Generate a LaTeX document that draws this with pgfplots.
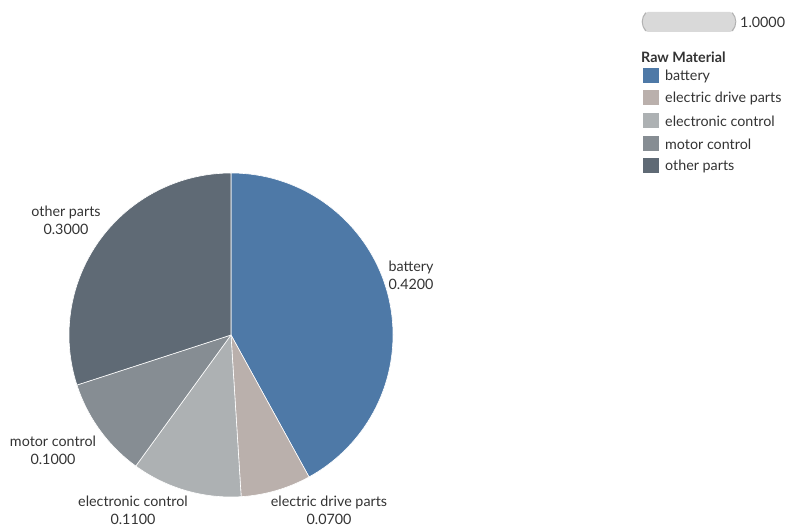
\documentclass[border=0pt]{standalone}
\usepackage{pgfplots}
\pgfplotsset{compat=1.18}
\usepackage{fontspec}
\setmainfont{Lato}
\definecolor{cBattery}{HTML}{4E79A7}
\definecolor{cDrive}{HTML}{BAB0AC}
\definecolor{cElec}{HTML}{ADB1B3}
\definecolor{cMotor}{HTML}{868D93}
\definecolor{cOther}{HTML}{5F6A75}
\definecolor{txt}{HTML}{333333}
\begin{document}
\begin{tikzpicture}
\begin{axis}[
  width=786pt, height=527pt, scale only axis,
  xmin=0, xmax=786, ymin=0, ymax=527,
  hide axis, clip=false,
]
% pie: values of Raw Material shares, clockwise from 12 o'clock
\foreach \v/\c [remember=\e as \s (initially 90)] in {0.42/cBattery, 0.07/cDrive, 0.11/cElec, 0.10/cMotor, 0.30/cOther}{
  \pgfmathsetmacro\e{\s-360*\v}
  \edef\temp{\noexpand\fill[\c, draw=white, line width=0.6pt, line join=round] (axis cs:231,192) -- ++(\s:162pt) arc[start angle=\s, end angle=\e, radius=162pt] -- cycle;}
  \temp
}
% slice labels
\begin{scope}[every node/.style={font=\fontsize{14.3}{18}\selectfont, text=txt, align=center}]
\node at (axis cs:411,252) {battery\\0.4200};
\node at (axis cs:66,307) {other parts\\0.3000};
\node at (axis cs:53,77) {motor control\\0.1000};
\node at (axis cs:133,16.5) {electronic control\\0.1100};
\node at (axis cs:329,16.5) {electric drive parts\\0.0700};
\end{scope}
% size legend bar
\fill[gray!30, rounded corners=5pt] (axis cs:643,495) rectangle (axis cs:735,515);
\draw[gray!60, line width=1pt] (axis cs:646,496) arc[start angle=225, end angle=135, radius=13pt];
\draw[gray!60, line width=1pt] (axis cs:732,496) arc[start angle=-45, end angle=45, radius=13pt];
\node[anchor=west, font=\fontsize{14.3}{15}\selectfont, text=txt, inner sep=0pt] at (axis cs:740,505) {1.0000};
% colour legend
\node[anchor=west, font=\bfseries\fontsize{14.3}{15}\selectfont, text=txt, inner sep=0pt] at (axis cs:641,470) {Raw Material};
\foreach \y/\c/\t in {451/cBattery/battery, 429/cDrive/electric drive parts, 406/cElec/electronic control, 383/cMotor/motor control, 361/cOther/other parts}{
  \edef\temp{\noexpand\fill[\c] (axis cs:643,\y-7.5) rectangle (axis cs:659,\y+7.5);
    \noexpand\node[anchor=west, font=\noexpand\fontsize{14.3}{15}\noexpand\selectfont, text=txt, inner sep=0pt] at (axis cs:665,\y) {\t};}
  \temp
}
\end{axis}
\pgfresetboundingbox
\path (current axis.south west) rectangle (current axis.north east);
\end{tikzpicture}
\end{document}
